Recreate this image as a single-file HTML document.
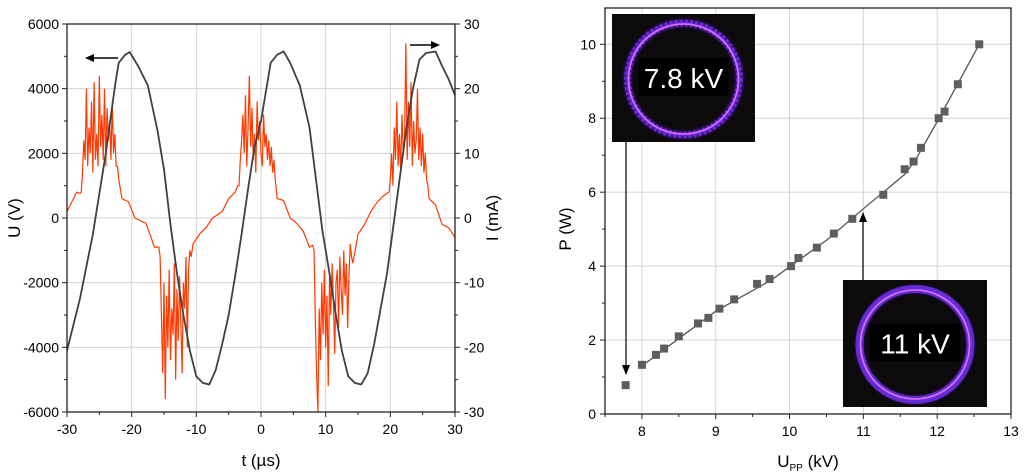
<!DOCTYPE html>
<html><head><meta charset="utf-8"><style>
html,body{margin:0;padding:0;background:#fff;}
svg{display:block;font-family:"Liberation Sans",Arial,sans-serif;}
</style></head><body>
<svg id="svg" width="1024" height="474" viewBox="0 0 1024 474">
<defs>
<radialGradient id="glow" cx="0.5" cy="0.5" r="0.5">
<stop offset="0.78" stop-color="#000" stop-opacity="0"/>
<stop offset="0.9" stop-color="#7a2cff" stop-opacity="0.9"/>
<stop offset="1" stop-color="#3a0aa0" stop-opacity="0"/>
</radialGradient>
</defs>
<g id="left"></g>
<g id="right"></g>
</svg>
<script>
// ---------- Left chart data ----------
const voltT = [-30,-28,-26,-24,-22.5,-22,-21,-20.3,-19,-17.5,-16,-15,-14,-13,-12,-11,-10,-9,-8,-7,-6,-5,-4,-3,-2,-1,0,1,1.5,2.5,3.5,4.5,6,7.5,8.5,9.5,10.5,11.5,12.5,13.5,14.5,15.5,16.5,17.5,18.5,19.5,20.5,21.5,22.5,23.5,24.5,25.5,27,28,29,30];
const voltU = [-4100,-2500,-500,2000,4200,4800,5050,5130,4700,4100,2700,1500,-200,-1700,-3000,-4100,-4900,-5100,-5150,-4700,-3900,-3000,-1800,-500,900,2200,3000,4200,4800,5050,5150,4800,4100,2800,1200,-400,-1600,-2900,-4100,-4900,-5100,-5150,-4800,-3900,-2800,-1700,-200,1300,2800,4000,4900,5100,5150,4700,4300,3800];
const baseT1 = [-30,-29,-28.5,-28,-27.8];
const baseI1 = [1,3,4,3.8,4];
const burst1Start = -27.6, burst1 = [7,12,9,20,8,14,10,18,7,21,9,13,8,22,11,16,9,20,8,17,12,15,9,18,10,13,8];
const baseT2 = [-22.2,-22,-21.5,-20.5,-19.5,-18.5,-17.8,-17,-16.5,-15.8];
const baseI2 = [8,6,3,2.5,0,-0.5,-0.8,-3,-4.5,-4.5];
const burst2Start = -15.6, burst2 = [-6,-15,-24,-10,-28,-12,-20,-8,-22,-14,-18,-7,-25,-11,-19,-9,-16,-24,-10,-14,-6,-20,-8,-5];
const baseT3 = [-10.8,-10.5,-9.5,-8.5,-7.5,-6,-5,-4,-3.6];
const baseI3 = [-6,-4,-2.5,-1.5,0,1,3,4,5];
const burst3Start = -3.4, burst3 = [5,9,12,16,10,19,8,14,22,11,17,9,13,7,18,12,15,10,8,16,11,13,9,12,8,11,7,9];
const baseT4 = [2.2,2.5,3.5,4.5,5.5,6.5,7.5,8];
const baseI4 = [6,3,2.7,0,-0.8,-2,-4.5,-4.2];
const burst4Start = 8.2, burst4 = [-5,-16,-24,-30,-14,-22,-10,-18,-8,-20,-12,-26,-9,-15,-7,-13,-21,-10,-8,-17,-6,-11,-15,-5,-12,-7,-17,-9,-4,-6];
const baseT5 = [14.2,15,16,17,18,19,19.8];
const baseI5 = [-7,-2.5,-1,1,2.5,3.5,4];
const burst5Start = 20.0, burst5 = [6,10,5,14,9,18,8,13,7,16,10,12,27,9,18,11,21,8,15,10,12,20,9,14,8,13,7,10,6];
const baseT6 = [25.8,26,27,28,29,30];
const baseI6 = [5,3,2,-1,-1.5,-3];
const xTicksL = [-30,-20,-10,0,10,20,30];
const yTicksL = [-6000,-4000,-2000,0,2000,4000,6000];
const yTicksR = [-30,-20,-10,0,10,20,30];

// ---------- Right chart data ----------
const upp = [7.78,8.0,8.19,8.3,8.5,8.76,8.9,9.05,9.25,9.56,9.73,10.02,10.12,10.37,10.6,10.85,11.27,11.56,11.68,11.78,12.02,12.1,12.28,12.57];
const power = [0.78,1.33,1.6,1.77,2.1,2.45,2.6,2.85,3.1,3.52,3.65,4.0,4.22,4.5,4.88,5.28,5.93,6.62,6.83,7.2,8.0,8.18,8.92,10.0];
const fitU = [8.0,9.0,9.75,10.5,11.0,11.56,11.7,12.02,12.57];
const fitP = [1.3,2.78,3.62,4.7,5.55,6.48,6.85,7.98,10.0];
const xTicksR = [8,9,10,11,12,13];
const yTicksP = [0,2,4,6,8,10];

const NS='http://www.w3.org/2000/svg';
function mk(parent,tag,attrs,text){const e=document.createElementNS(NS,tag);for(const k in attrs)e.setAttribute(k,attrs[k]);if(text!==undefined)e.textContent=text;parent.appendChild(e);return e;}

// ===== Left =====
const L=document.getElementById('left');
const lx0=67,lx1=455,ly0=24,ly1=412;
const sxL=t=>lx0+(t+30)/60*(lx1-lx0);
const syU=u=>ly1-(u+6000)/12000*(ly1-ly0);
const syI=i=>ly1-(i+30)/60*(ly1-ly0);
xTicksL.forEach(t=>{const g=mk(L,'line',{x1:sxL(t),x2:sxL(t),y1:ly0,y2:ly1,stroke:'#d4d4d4','stroke-width':1});

});
yTicksL.forEach(u=>{const g=mk(L,'line',{x1:lx0,x2:lx1,y1:syU(u),y2:syU(u),stroke:'#d4d4d4','stroke-width':1});

});
let cur=[];
function addBase(T,I){T.forEach((t,k)=>cur.push([t,I[k]]));}
function addBurst(s,V){V.forEach((v,k)=>cur.push([s+k*0.2,v]));}
addBase(baseT1,baseI1);addBurst(burst1Start,burst1);addBase(baseT2,baseI2);addBurst(burst2Start,burst2);
addBase(baseT3,baseI3);addBurst(burst3Start,burst3);addBase(baseT4,baseI4);addBurst(burst4Start,burst4);
addBase(baseT5,baseI5);addBurst(burst5Start,burst5);addBase(baseT6,baseI6);
const cl=mk(L,'polyline',{points:cur.map(p=>sxL(p[0])+','+syI(p[1])).join(' '),fill:'none',stroke:'#ff3a00','stroke-width':1.2});


const vl=mk(L,'polyline',{points:voltT.map((t,k)=>sxL(t)+','+syU(voltU[k])).join(' '),fill:'none',stroke:'#404040','stroke-width':1.8});


mk(L,'rect',{x:lx0,y:ly0,width:lx1-lx0,height:ly1-ly0,fill:'none',stroke:'#222','stroke-width':1.3});
xTicksL.forEach(t=>{mk(L,'line',{x1:sxL(t),x2:sxL(t),y1:ly1,y2:ly1+5,stroke:'#222'});
const tl=mk(L,'text',{x:sxL(t),y:ly1+22,'text-anchor':'middle','font-size':14},String(t));

});
[-25,-15,-5,5,15,25].forEach(t=>mk(L,'line',{x1:sxL(t),x2:sxL(t),y1:ly1,y2:ly1+3,stroke:'#222'}));
yTicksL.forEach(u=>{mk(L,'line',{x1:lx0-5,x2:lx0,y1:syU(u),y2:syU(u),stroke:'#222'});
const tl=mk(L,'text',{x:lx0-8,y:syU(u)+5,'text-anchor':'end','font-size':14},String(u));

});
yTicksR.forEach(i=>{mk(L,'line',{x1:lx1,x2:lx1+5,y1:syI(i),y2:syI(i),stroke:'#222'});
const tl=mk(L,'text',{x:lx1+9,y:syI(i)+5,'text-anchor':'start','font-size':14},String(i));

});
[-25,-15,-5,5,15,25].forEach(i=>{mk(L,'line',{x1:lx0-3,x2:lx0,y1:syI(i),y2:syI(i),stroke:'#222'});mk(L,'line',{x1:lx1,x2:lx1+3,y1:syI(i),y2:syI(i),stroke:'#222'});});
const xt=mk(L,'text',{x:(lx0+lx1)/2,y:466,'text-anchor':'middle','font-size':17},'t (µs)');

const yt=mk(L,'text',{x:0,y:0,'text-anchor':'middle','font-size':17,transform:'translate(20,218) rotate(-90)'},'U (V)');

const yt2=mk(L,'text',{x:0,y:0,'text-anchor':'middle','font-size':17,transform:'translate(498,218) rotate(-90)'},'I (mA)');

const a1=mk(L,'g',{});
mk(a1,'line',{x1:118,x2:92,y1:58,y2:58,stroke:'#000','stroke-width':1.5});
mk(a1,'polygon',{points:'85,58 94,54 94,62',fill:'#000'});
const a2=mk(L,'g',{});
mk(a2,'line',{x1:410,x2:433,y1:45,y2:45,stroke:'#000','stroke-width':1.5});
mk(a2,'polygon',{points:'440,45 431,41 431,49',fill:'#000'});

// ===== Right =====
const R=document.getElementById('right');
const rx0=605,rx1=1011,ry0=8,ry1=414;
const sxR=v=>rx0+(v-7.5)/5.5*(rx1-rx0);
const syP=p=>ry1-p/10*(ry1-44.3);
xTicksR.forEach(v=>{const g=mk(R,'line',{x1:sxR(v),x2:sxR(v),y1:ry0,y2:ry1,stroke:'#d4d4d4'});

});
yTicksP.forEach(p=>{const g=mk(R,'line',{x1:rx0,x2:rx1,y1:syP(p),y2:syP(p),stroke:'#d4d4d4'});

});
mk(R,'rect',{x:rx0,y:ry0,width:rx1-rx0,height:ry1-ry0,fill:'none',stroke:'#222','stroke-width':1.3});
xTicksR.forEach(v=>{mk(R,'line',{x1:sxR(v),x2:sxR(v),y1:ry1,y2:ry1+5,stroke:'#222'});
const tl=mk(R,'text',{x:sxR(v),y:ry1+22,'text-anchor':'middle','font-size':14},String(v));

});
[7.5,8.5,9.5,10.5,11.5,12.5].forEach(v=>mk(R,'line',{x1:sxR(v),x2:sxR(v),y1:ry1,y2:ry1+3,stroke:'#222'}));
yTicksP.forEach(p=>{mk(R,'line',{x1:rx0-5,x2:rx0,y1:syP(p),y2:syP(p),stroke:'#222'});
const tl=mk(R,'text',{x:rx0-9,y:syP(p)+5,'text-anchor':'end','font-size':14},String(p));

});
[1,3,5,7,9].forEach(p=>mk(R,'line',{x1:rx0-3,x2:rx0,y1:syP(p),y2:syP(p),stroke:'#222'}));
const fl=mk(R,'polyline',{points:fitU.map((u,k)=>sxR(u)+','+syP(fitP[k])).join(' '),fill:'none',stroke:'#555','stroke-width':1.3});

upp.forEach((u,k)=>{const r=mk(R,'rect',{x:sxR(u)-4,y:syP(power[k])-4,width:8,height:8,fill:'#5e5e5e'});

});
const rxt=mk(R,'text',{x:(rx0+rx1)/2,y:467,'text-anchor':'middle','font-size':17});

rxt.innerHTML='U<tspan font-size="10" dy="4">PP</tspan><tspan dy="-4"> (kV)</tspan>';
const ryt=mk(R,'text',{x:0,y:0,'text-anchor':'middle','font-size':17,transform:'translate(571,229) rotate(-90)'},'P (W)');

function inset(x,y,w,h,label,name,ragged){
 const g=mk(R,'g',{});
 mk(g,'rect',{x:x,y:y,width:w,height:h,fill:'#0d0a0c'});
 const cx=x+w/2,cy=y+h/2+1,r=Math.min(w,h)/2-8;
 mk(g,'circle',{cx:cx,cy:cy,r:r+6,fill:'url(#glow)'});
 mk(g,'circle',{cx:cx,cy:cy,r:r,fill:'none',stroke:'#6a30e0','stroke-width':ragged?7:8,'stroke-opacity':0.85,'stroke-dasharray':ragged?'3 2':'none'});
 mk(g,'circle',{cx:cx,cy:cy,r:r-1,fill:'none',stroke:'#e070ff','stroke-width':1.6});
 mk(g,'rect',{x:cx-45,y:cy-21,width:90,height:38,fill:'#000'});
 mk(g,'text',{x:cx,y:cy+9,'text-anchor':'middle','font-size':28,fill:'#fff'},label);
}
inset(612,14,143,128,'7.8 kV','inset-7-8kv',true);
inset(843,280,144,127,'11 kV','inset-11kv',false);
const d1=mk(R,'g',{});
mk(d1,'line',{x1:626,x2:626,y1:142,y2:366,stroke:'#000','stroke-width':1.2});
mk(d1,'polygon',{points:'626,375 622,365 630,365',fill:'#000'});
const d2=mk(R,'g',{});
mk(d2,'line',{x1:863,x2:863,y1:280,y2:222,stroke:'#000','stroke-width':1.2});
mk(d2,'polygon',{points:'863,212 859,222 867,222',fill:'#000'});
</script>
</body></html>
